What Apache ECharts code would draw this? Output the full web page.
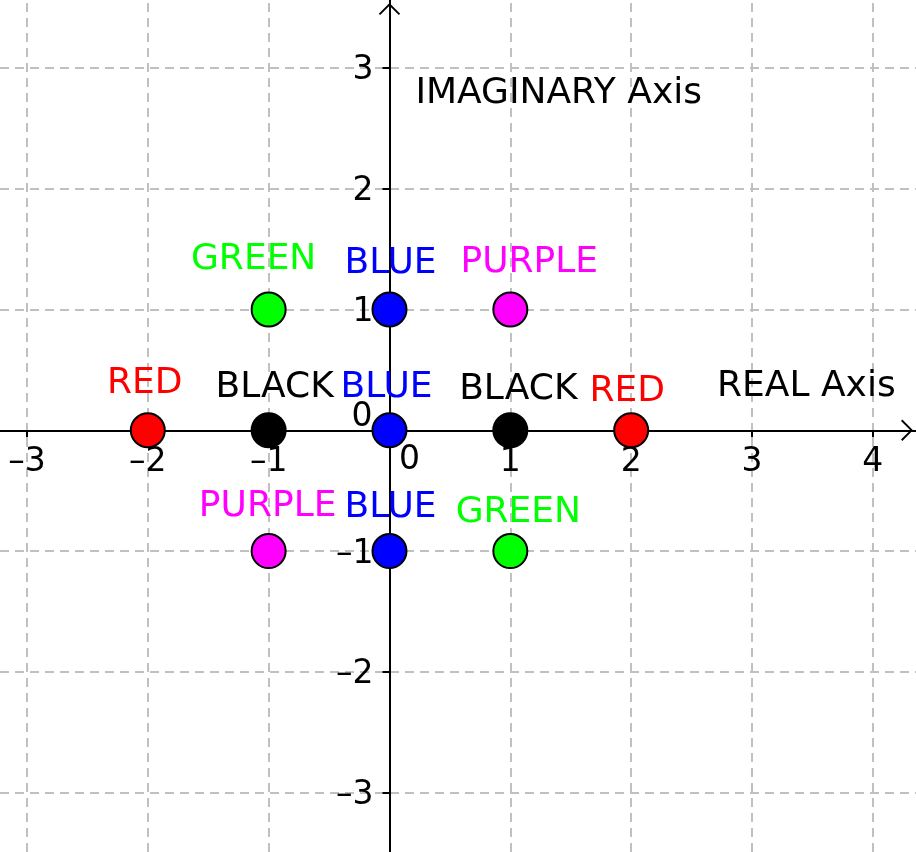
<!DOCTYPE html>
<html>
<head>
<meta charset="utf-8">
<script src="https://cdn.jsdelivr.net/npm/echarts@6/dist/echarts.min.js"></script>
<style>
html,body{margin:0;padding:0;background:#fff;}
#chart{width:916px;height:852px;}
</style>
</head>
<body>
<div id="chart"></div>
<script>
// ---- data ----
const realParts = [-2, -1, 0, 1, 2, -1, 0, 1, -1, 0, 1];
const imagParts = [0, 0, 0, 0, 0, 1, 1, 1, -1, -1, -1];
const pointNames = ['RED', 'BLACK', 'BLUE', 'BLACK', 'RED', 'GREEN', 'BLUE', 'PURPLE', 'PURPLE', 'BLUE', 'GREEN'];
const xTicks = [-3, -2, -1, 0, 1, 2, 3, 4];
const yTicks = [-3, -2, -1, 0, 1, 2, 3];
const axisTitles = ['REAL Axis', 'IMAGINARY Axis'];
const axisTitleRe = [3.45, 1.40];
const axisTitleIm = [0.365, 2.785];

// ---- presentation ----
const colorOf = { RED: '#ff0000', BLACK: '#000000', BLUE: '#0000ff', GREEN: '#00ff00', PURPLE: '#ff00ff' };
const labelShift = [[-3, -47], [6, -43], [-3, -43], [8, -41], [-4, -39], [-15, -50], [1, -46], [19, -47], [-1, -44], [1, -43], [8, -38]];
const FONT = 'DejaVu Sans';
const FS = 36;
const TFS = 33;
const tickText = (v) => String(v).replace('-', '\u2013');

const chevron = 'path://M0,12 L12,0 L24,12 L22.5,13.5 L12,3 L1.5,13.5 Z';

const chart = echarts.init(document.getElementById('chart'), null, { renderer: 'canvas' });

const pointData = realParts.map((re, i) => ({
  value: [re, imagParts[i]],
  name: pointNames[i],
  itemStyle: { color: colorOf[pointNames[i]] },
  label: { color: colorOf[pointNames[i]], offset: labelShift[i] }
}));

const gridLineData = [
  ...xTicks.filter(v => v !== 0).map(v => ({ xAxis: v })),
  ...yTicks.filter(v => v !== 0).map(v => ({ yAxis: v }))
];

const xTickLabelData = xTicks.map(v => ({
  value: [v, 0], name: String(v),
  label: { offset: v === 0 ? [20, 30] : [0, 32] }
}));
const yTickLabelData = yTicks.map(v => ({
  value: [0, v], name: String(v),
  label: { offset: v === 0 ? [-17, -13] : [-16, 3] }
}));

const axisCommon = {
  type: 'value', z: 2,
  splitLine: { show: false },
  axisLabel: { show: false },
  axisLine: { onZero: true, lineStyle: { color: '#000', width: 2 }, symbol: ['none', chevron], symbolSize: [22, 12], symbolOffset: [0, -9] }
};

chart.setOption({
  animation: false,
  backgroundColor: '#ffffff',
  grid: { left: 0, right: 0, top: 0, bottom: 0, containLabel: false, outerBoundsMode: 'none' },
  xAxis: Object.assign({}, axisCommon, {
    min: -3.223, max: 4.357,
    axisTick: { show: true, customValues: xTicks.filter(v => v !== 0), length: 7, lineStyle: { color: '#000', width: 2 } }
  }),
  yAxis: Object.assign({}, axisCommon, {
    min: -3.491, max: 3.562,
    axisTick: { show: true, customValues: yTicks.filter(v => v !== 0), length: 7, lineStyle: { color: '#000', width: 2 } }
  }),
  series: [
    {
      type: 'scatter', z: 1, silent: true, data: [],
      markLine: {
        z: 1, silent: true, symbol: ['none', 'none'], label: { show: false },
        lineStyle: { color: '#c0c0c0', width: 2, type: [9, 6] },
        data: gridLineData
      }
    },
    {
      type: 'scatter', z: 4, symbolSize: 0, silent: true,
      itemStyle: { opacity: 1 },
      label: { show: true, position: 'inside', align: 'center', verticalAlign: 'middle',
        formatter: (p) => tickText(p.value[0]), color: '#000', fontFamily: FONT, fontSize: TFS },
      data: xTickLabelData
    },
    {
      type: 'scatter', z: 4, symbolSize: 0, silent: true,
      itemStyle: { opacity: 1 },
      label: { show: true, position: 'inside', align: 'right', verticalAlign: 'middle',
        formatter: (p) => tickText(p.value[1]), color: '#000', fontFamily: FONT, fontSize: TFS },
      data: yTickLabelData
    },
    {
      type: 'scatter', z: 5, symbol: 'circle', symbolSize: 34,
      itemStyle: { borderColor: '#000', borderWidth: 2, opacity: 1 },
      label: { show: true, position: 'inside', formatter: '{b}', fontFamily: FONT, fontSize: FS },
      data: pointData
    },
    {
      type: 'scatter', z: 6, symbolSize: 0, silent: true,
      itemStyle: { opacity: 1 },
      label: { show: true, position: 'inside', formatter: '{b}', color: '#000', fontFamily: FONT, fontSize: FS },
      data: axisTitles.map((t, i) => ({ name: t, value: [axisTitleRe[i], axisTitleIm[i]] }))
    }
  ]
});
</script>
</body>
</html>
